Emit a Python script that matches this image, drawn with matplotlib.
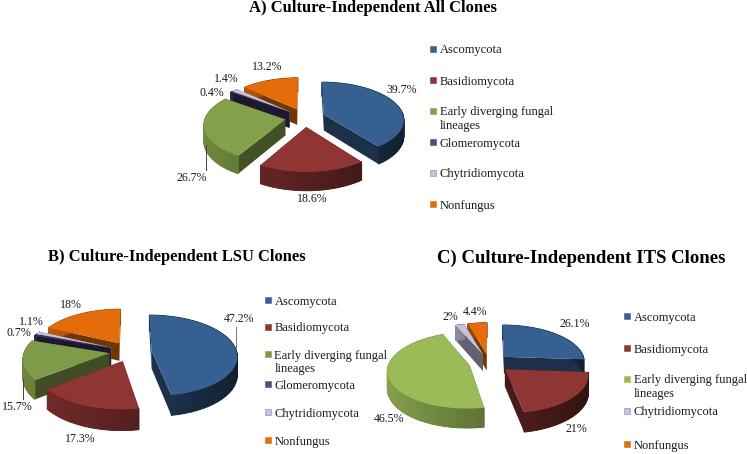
import numpy as np
import matplotlib
matplotlib.use('Agg')
import matplotlib.pyplot as plt
from matplotlib.transforms import Transform

plt.rcParams['font.family'] = ['Liberation Serif', 'DejaVu Serif']

# data
labels_a = ['Ascomycota', 'Basidiomycota', 'Early diverging fungal\nlineages', 'Glomeromycota', 'Chytridiomycota', 'Nonfungus']
values_a = [39.7, 18.6, 26.7, 0.4, 1.4, 13.2]
labels_b = labels_a
values_b = [47.2, 17.3, 15.7, 0.7, 1.1, 18]
labels_c = ['Ascomycota', 'Basidiomycota', 'Early diverging fungal\nlineages', 'Chytridiomycota', 'Nonfungus']
values_c = [26.1, 21, 46.5, 2, 4.4]

colors_a = ['#376092', '#8f3634', '#84a04a', '#3c2f5e', '#c6c1dd', '#e46c0a']
colors_b = ['#376092', '#8f3634', '#7f9a48', '#3c2f5e', '#c6c1dd', '#e46c0a']
colors_c = ['#376092', '#8f3634', '#9bbb59', '#c6c1dd', '#e46c0a']


class Tilt(Transform):
    # lays the unit pie on a table seen from the front
    input_dims = 2
    output_dims = 2

    def __init__(self, cx, cy, rx, ry, p, drop=0):
        super().__init__()
        self.cx, self.cy, self.rx, self.ry, self.p, self.drop = cx, cy, rx, ry, p, drop

    def transform_non_affine(self, xy):
        xy = np.asarray(xy, dtype=float)
        s = 1 / (1 + self.p * xy[:, 1])
        return np.column_stack([self.cx + self.rx * xy[:, 0] * s,
                                self.cy - self.ry * xy[:, 1] * s + self.drop * s])


def shade(col, k):
    return tuple(np.array(matplotlib.colors.to_rgb(col)) * k)


def fill_px(ax, top, bottom, col, z, lw=0.0):
    pts = np.vstack([top, bottom[::-1]])
    ax.fill(pts[:, 0], pts[:, 1], color=col, lw=lw, zorder=z)


def pie3d(ax, values, colors, cx, cy, rx, ry, depth, explode=0.25, p=0.12):
    tilt = Tilt(cx, cy, rx, ry, p)
    low = Tilt(cx, cy, rx, ry, p, depth)
    wedges, _ = ax.pie(values, explode=[explode] * len(values), colors=colors, startangle=90,
                       counterclock=False, wedgeprops=dict(linewidth=0))
    ax.set_aspect('auto')
    order = sorted(range(len(wedges)), key=lambda i: -wedges[i].center[1])
    for rank, i in enumerate(order):
        w = wedges[i]
        z = 2 + rank
        col = colors[i]
        c = np.array(w.center)
        th = np.radians(np.linspace(w.theta1, w.theta2, 41))
        arc = c + w.r * np.column_stack([np.cos(th), np.sin(th)])
        # flat cut faces first
        for end in (arc[0], arc[-1]):
            seg = np.vstack([c, end])
            fill_px(ax, tilt.transform(seg), low.transform(seg), shade(col, 0.5), z)
        # outer rim, lighter on the left; plain base under it so no seams show
        fill_px(ax, tilt.transform(arc), low.transform(arc), shade(col, 0.55), z + 0.05)
        for j in range(len(arc) - 1):
            seg = arc[j:j + 2]
            k = 0.6 - 0.22 * seg[:, 0].mean()
            fill_px(ax, tilt.transform(seg), low.transform(seg), shade(col, k), z + 0.1, lw=0.7)
        w.set_transform(tilt + ax.transData)
        w.set_zorder(z + 0.5)


def percent_labels(ax, values, spots):
    for v, (x, y) in zip(values, spots):
        ax.text(x, y, f'{v:g}%', ha='center', va='center', fontsize=8.6, color='#1a1a1a', zorder=30)


def legend(ax, labels, colors, x, rows):
    for lab, col, y in zip(labels, colors, rows):
        if col == '#3c2f5e':
            col = '#5f497a'
        ax.scatter([x], [y], marker='s', s=17, color=col, edgecolor='#8a86a8' if col == '#c6c1dd' else col,
                   linewidth=0.4, zorder=30)
        ax.text(x + 6.5, y - 4.5, lab, ha='left', va='top', fontsize=9, color='#1a1a1a',
                linespacing=1.2, zorder=30)


fig = plt.figure(figsize=(7.47, 4.54), dpi=100)
ax = fig.add_axes([0, 0, 1, 1])

pie3d(ax, values_a, colors_a, 305, 117.5, 80, 37, 16)
pie3d(ax, values_b, colors_b, 130.5, 351.5, 85, 40, 18)
pie3d(ax, values_c, colors_c, 489.5, 363, 81, 37, 17)

percent_labels(ax, values_a, [(402, 90), (312, 199), (192, 178), (212, 93), (226, 79), (267, 67)])
percent_labels(ax, values_b, [(239, 319), (80, 439), (17, 407), (19, 333), (31, 322), (71, 305)])
percent_labels(ax, values_c, [(575, 324), (576, 429), (389, 419), (450, 317), (475, 312)])

# leader lines
ax.plot([205.6, 205.6], [145, 170], color='#444444', lw=0.7, zorder=25)
ax.plot([235.7, 235.7], [327, 348], color='#777777', lw=0.7, zorder=25)
ax.plot([23, 23], [379, 399], color='#444444', lw=0.7, zorder=25)

legend(ax, labels_a, colors_a, 433, [49, 80, 111, 142, 173, 204])
legend(ax, labels_b, colors_b, 268, [300, 327, 354, 384, 412, 440])
legend(ax, labels_c, colors_c, 627, [316, 348, 379, 411, 444])

ax.text(373, 8, 'A) Culture-Independent All Clones', ha='center', va='center', fontsize=12, fontweight='bold')
ax.text(177, 257, 'B) Culture-Independent LSU Clones', ha='center', va='center', fontsize=11.9, fontweight='bold')
ax.text(581, 258, 'C) Culture-Independent ITS Clones', ha='center', va='center', fontsize=13.5, fontweight='bold')

ax.set_xlim(0, 747)
ax.set_ylim(454, 0)
ax.axis('off')

fig.savefig('out.png', dpi=100)
